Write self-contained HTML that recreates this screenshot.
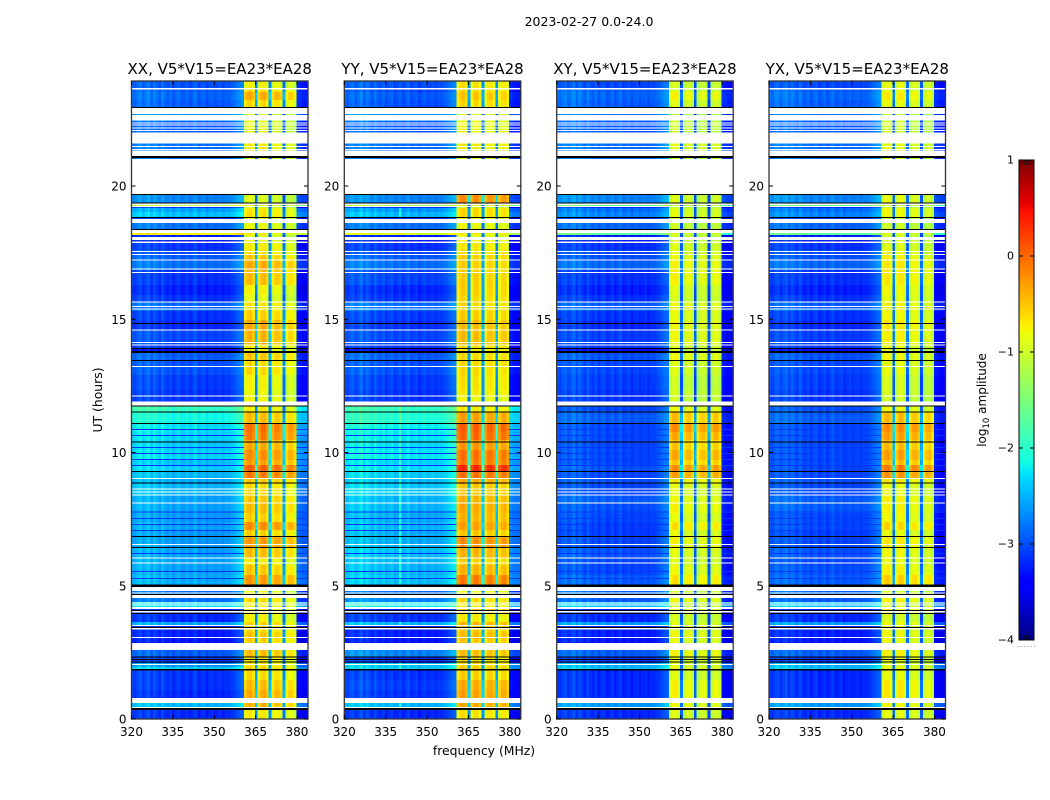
<!DOCTYPE html>
<html>
<head>
<meta charset="utf-8">
<title>2023-02-27 0.0-24.0</title>
<style>
html,body{margin:0;padding:0;background:#fff;}
svg{display:block;font-family:"DejaVu Sans","Liberation Sans",sans-serif;}
</style>
</head>
<body>
<svg id="figure" xmlns="http://www.w3.org/2000/svg" width="1050" height="800" viewBox="0 0 1050 800"></svg>
<script>
const polarizations = ['XX','YY','XY','YX'];
const xTicks = [320,335,350,365,380];
const yTicks = [0,5,10,15,20];
const colorbarTicks = [1,0,-1,-2,-3,-4];

const rowTopUT = [23.94,23.68,23.53,23.23,22.70,22.44,21.61,21.09,19.66,19.36,19.21,19.17,19.02,18.80,18.61,18.35,18.24,18.16,17.97,17.86,17.60,17.41,17.19,16.85,16.29,15.91,15.65,15.31,14.97,14.60,14.03,13.92,13.73,13.43,12.91,12.35,12.08,11.74,11.52,11.11,10.77,10.47,10.09,9.72,9.53,9.27,9.04,8.82,8.41,8.11,7.73,7.39,7.09,6.83,6.42,6.04,5.78,5.40,5.03,4.80,4.54,4.39,4.13,3.94,3.64,3.49,3.26,3.00,2.59,2.33,2.10,1.95,1.84,1.46,1.09,0.60,0.34];

const backgroundXX = [-3.0,-2.95,-2.9,-2.95,-2.7,-2.95,-2.85,-2.85,-2.75,-1.2,-3.15,-2.6,-2.45,-3.15,-2.85,-3.15,-0.8,-3.25,-3.25,-3.15,-3.05,-2.95,-2.85,-3.15,-3.25,-3.15,-2.9,-3.15,-3.2,-3.05,-3.15,-3.4,-2.95,-3.0,-3.1,-3.15,-3.15,-1.95,-2.15,-2.3,-2.35,-2.4,-2.35,-2.45,-2.4,-2.5,-2.55,-2.5,-2.6,-2.6,-2.65,-2.6,-2.65,-2.65,-2.6,-2.6,-2.6,-2.55,-3.15,-2.85,-2.85,-2.3,-3.25,-3.2,-2.6,-3.25,-3.25,-3.3,-2.95,-3.15,-2.65,-2.4,-3.15,-3.15,-3.2,-2.5,-3.2];
const backgroundYY = [-3.0,-3.05,-2.95,-3.0,-2.7,-2.95,-2.85,-2.85,-2.75,-1.3,-3.15,-2.65,-2.5,-3.15,-2.85,-3.15,-1,-3.25,-3.25,-3.15,-3.05,-2.95,-2.85,-3.05,-3.2,-3.15,-2.85,-3.1,-3.15,-3.05,-3.15,-3.4,-2.95,-3.0,-3.1,-3.15,-3.15,-1.95,-2.05,-2.2,-2.25,-2.3,-2.25,-2.35,-2.3,-2.4,-2.45,-2.4,-2.5,-2.5,-2.55,-2.5,-2.55,-2.55,-2.45,-2.5,-2.5,-2.45,-3.15,-2.85,-2.75,-2.2,-3.25,-3.15,-2.5,-3.25,-3.25,-3.3,-2.75,-3.15,-2.45,-2.4,-3.15,-3.1,-3.15,-2.5,-3.2];
const backgroundXY = [-3.05,-2.95,-2.9,-2.95,-2.85,-2.95,-2.85,-2.85,-2.75,-1.6,-3.15,-2.85,-2.75,-3.15,-2.9,-3.15,-1.7,-3.25,-3.25,-3.15,-3.05,-3.0,-2.9,-3.15,-3.25,-3.15,-2.95,-3.15,-3.2,-3.1,-3.15,-3.4,-3.0,-3.05,-3.1,-3.15,-3.15,-3.05,-2.95,-3.05,-3.05,-3.05,-3.05,-3.05,-3.0,-3.05,-3.0,-3.05,-2.95,-3.0,-3.05,-3.1,-3.1,-3.05,-3.0,-3.05,-3.05,-2.95,-3.15,-2.9,-2.95,-2.45,-3.25,-3.2,-2.65,-3.25,-3.25,-3.3,-2.95,-3.15,-2.55,-2.45,-3.2,-3.2,-3.2,-2.65,-3.2];
const backgroundYX = [-3.05,-2.95,-2.9,-2.95,-2.85,-2.95,-2.85,-2.85,-2.75,-1.6,-3.15,-2.85,-2.75,-3.15,-2.9,-3.15,-1.7,-3.25,-3.25,-3.15,-3.05,-3.0,-2.9,-3.15,-3.25,-3.15,-2.95,-3.15,-3.2,-3.1,-3.15,-3.4,-3.0,-3.05,-3.1,-3.15,-3.15,-3.0,-2.95,-3.05,-3.05,-3.05,-3.05,-3.05,-3.05,-3.05,-3.0,-3.05,-2.95,-2.95,-3.05,-3.05,-3.1,-3.05,-3.0,-3.05,-3.0,-2.95,-3.15,-2.9,-2.95,-2.45,-3.25,-3.2,-2.65,-3.25,-3.25,-3.3,-2.95,-3.15,-2.55,-2.45,-3.2,-3.2,-3.2,-2.65,-3.2];

const bandXX = [-.75,-.6,-.35,-.6,-.9,-.85,-.7,-.9,-.9,-.8,-1,-.7,-.65,-.8,-.8,-.9,-.7,-.9,-.8,-.7,-.65,-.5,-.35,-.45,-.75,-.85,-.65,-.55,-.35,-.4,-.7,-.8,-.5,-.6,-.75,-.8,-.75,-.7,-.45,-.05,-.1,-.35,-.2,-.3,.05,-.1,-.5,-.6,-.5,-.45,-.55,-.2,-.55,-.25,-.45,-.7,-.5,-.25,-.8,-.8,-.6,-.7,-.7,-.75,-.55,-.6,-.5,-.55,-.45,-.7,-.65,-.55,-.6,-.45,-.35,-.4,-.7];
const bandYY = [-.65,-.6,-.5,-.6,-.9,-.8,-.7,-.9,-.2,-.8,-1,-.6,-.6,-.8,-.8,-.9,-.7,-.85,-.75,-.7,-.65,-.55,-.55,-.55,-.55,-.6,-.6,-.55,-.45,-.45,-.6,-.7,-.6,-.6,-.65,-.7,-.8,-.7,-.3,.05,0,-.25,-.05,-.1,.35,-.05,-.35,-.5,-.4,-.35,-.4,-.3,-.5,-.2,-.4,-.55,-.4,-.1,-.8,-.8,-.6,-.7,-.5,-.7,-.4,-.5,-.45,-.5,-.45,-.65,-.6,-.5,-.55,-.35,-.3,-.35,-.65];
const bandXY = [-.95,-.9,-.75,-.9,-1.1,-1,-.85,-1,-.9,-1,-1.1,-.9,-.85,-1,-1,-1,-.9,-1,-.95,-.9,-.85,-.8,-.75,-.75,-.9,-.95,-.8,-.85,-.8,-.8,-.9,-1,-.8,-.9,-1,-.95,-1,-.8,-.45,-.2,-.35,-.5,-.35,-.5,-.2,-.3,-.7,-.85,-.8,-.75,-.85,-.65,-.85,-.75,-.85,-.9,-.8,-.65,-.9,-.95,-.8,-.95,-.85,-.95,-.85,-.85,-.8,-.85,-.75,-.9,-.9,-.8,-.9,-.75,-.75,-.8,-.9];
const bandYX = [-.85,-.85,-.7,-.85,-1.1,-1,-.85,-1,-.85,-1,-1.1,-.8,-.8,-1,-1,-1,-.9,-1,-.95,-.9,-.85,-.75,-.7,-.7,-.8,-.85,-.75,-.8,-.7,-.75,-.85,-.95,-.8,-.85,-.95,-.95,-1,-.8,-.45,-.2,-.3,-.45,-.3,-.45,-.1,-.25,-.7,-.85,-.75,-.75,-.8,-.6,-.85,-.7,-.8,-.85,-.75,-.55,-.9,-.95,-.75,-.9,-.8,-.95,-.8,-.85,-.8,-.85,-.75,-.9,-.9,-.8,-.85,-.7,-.7,-.8,-.85];

const channelOffset = [.10,.05,.15,.20,.05,.15,.25,.05,.20,.10,0,.18,.05,0,.10,-.05,.05,.10,-.05,0,.08,-.05,.03,.12,-.05,0,.05,-.08,0,.04,-.05,0,.03,-.06,.02,0,.05,.10,.18,.25,.30,-.15,.02,.06,-.10,-2.0,-.20,.02,.05,-.15,-2.0,-.20,.02,.05,-.10,-2.0,-.20,0,.02,-.20,-.20,-.25,-.30,-.30,-.30];
const segmentTiltXX = [0,0,-.1,-.2];
const segmentTiltYY = [0,0,-.05,-.05];
const segmentTiltXY = [0,-.1,-.15,-.05];
const segmentTiltYX = [0,0,-.1,-.15];
const bandChannelRange = [41,59];
const yyRfiChannel = 20;
const yyRfiBoost = 0.35;

const dipUT = [10.88,10.66,10.21,9.98,9.76,9.53,7.78,7.54,7.32,7.09,6.23,5.55,5.29];
const dipLevel = -3.1;

const flaggedWhite = [[23.68,23.63],[22.93,22.70],[22.66,22.46],[22.39,22.36],[22.30,22.27],[22.20,22.17],[22.10,22.07],[22.01,21.60],[21.50,21.46],[21.39,21.35],[21.33,21.13],[21.01,19.70],[19.36,19.29],[19.25,19.21],[18.76,18.61],[18.35,18.24],[18.09,17.97],[17.92,17.86],[17.56,17.52],[17.45,17.41],[17.24,17.20],[16.90,16.87],[16.77,16.74],[15.67,15.63],[15.50,15.46],[15.40,15.37],[14.62,14.58],[14.15,14.11],[14.05,14.02],[13.25,13.21],[12.14,12.10],[11.91,11.74],[9.05,9.02],[8.65,8.61],[8.54,8.50],[8.42,8.39],[8.12,8.09],[6.57,6.53],[6.06,6.02],[5.87,5.83],[4.95,4.80],[4.75,4.71],[4.65,4.54],[4.37,4.35],[4.30,4.28],[4.20,4.13],[4.05,4.00],[3.53,3.49],[3.41,3.36],[3.08,3.04],[2.85,2.59],[2.06,2.03],[0.79,0.60],[0.45,0.41]];
const flaggedBlack = [[22.96,22.93],[21.13,21.05],[19.70,19.66],[19.38,19.34],[18.84,18.80],[18.39,18.35],[14.86,14.82],[13.92,13.88],[13.81,13.73],[13.47,13.43],[11.76,11.73],[11.54,11.50],[11.11,11.07],[10.41,10.38],[9.31,9.27],[8.87,8.84],[6.87,6.83],[6.45,6.42],[5.05,4.95],[4.69,4.65],[4.09,4.05],[3.98,3.94],[3.45,3.41],[2.35,2.31],[2.25,2.21],[2.16,2.12],[1.88,1.82],[0.41,0.34]];

const backgroundSeries = [backgroundXX,backgroundYY,backgroundXY,backgroundYX];
const bandSeries = [bandXX,bandYY,bandXY,bandYX];
const tiltSeries = [segmentTiltXX,segmentTiltYY,segmentTiltXY,segmentTiltYX];

const NS = 'http://www.w3.org/2000/svg';
const svg = document.getElementById('figure');
const panelLeft = [131.5,344.3,556.7,769];
const panelWidth = [176.5,176.5,176.5,176.5];
const plotTop = 81, plotBottom = 719;
const freqMin = 320, freqMax = 384, utMin = 0;
const FS = 12;

function node(tag, attrs, parent){
  const e = document.createElementNS(NS, tag);
  for (const k in attrs) e.setAttribute(k, attrs[k]);
  (parent || svg).appendChild(e);
  return e;
}
function interp(v, xs, ys){
  for (let i = 1; i < xs.length; i++) if (v <= xs[i]) return ys[i-1] + (ys[i]-ys[i-1])*(v-xs[i-1])/(xs[i]-xs[i-1]);
  return ys[ys.length-1];
}
function jet(level){
  const v = Math.max(0, Math.min(1, (level+4)/5));
  const r = interp(v,[0,.35,.66,.89,1],[0,0,1,1,.5]);
  const g = interp(v,[0,.125,.375,.64,.91,1],[0,0,1,1,0,0]);
  const b = interp(v,[0,.11,.34,.65,1],[.5,1,1,0,0]);
  return 'rgb('+Math.round(r*255)+','+Math.round(g*255)+','+Math.round(b*255)+')';
}
function xScale(p, f){ return panelLeft[p] + (f-freqMin)/(freqMax-freqMin)*panelWidth[p]; }
function yScale(ut){ return plotBottom - ut*26.65; }

polarizations.forEach(function(pol, p){
  const bg = backgroundSeries[p], band = bandSeries[p], tilt = tiltSeries[p];
  const group = node('g', {'shape-rendering':'crispEdges'});
  
  

  rowTopUT.forEach(function(top, r){
    const bottom = r+1 < rowTopUT.length ? rowTopUT[r+1] : utMin;
    const y0 = yScale(top), y1 = yScale(bottom);
    channelOffset.forEach(function(off, c){
      const f0 = Math.max(freqMin, freqMin + c - 0.25);
      const f1 = Math.min(freqMax, freqMin + c + 0.75);
      if (f1 <= f0) return;
      const inBand = c >= bandChannelRange[0] && c <= bandChannelRange[1];
      let level;
      if (inBand) level = band[r] + off + tilt[Math.min(3, Math.floor((c-bandChannelRange[0])/5))];
      else level = bg[r] + off;
      if (p === 1 && c === yyRfiChannel && bg[r] > -2.7) level += yyRfiBoost;
      const x0 = xScale(p, f0), x1 = xScale(p, f1);
      const cell = node('rect', {x:x0.toFixed(2), y:y0.toFixed(2), width:(x1-x0+0.3).toFixed(2), height:(y1-y0+0.3).toFixed(2), fill:jet(level)}, group);
      
      
    });
  });

  dipUT.forEach(function(ut){
    [[freqMin, freqMin + bandChannelRange[0] - 0.25],[freqMin + bandChannelRange[1] + 0.75, freqMax]].forEach(function(range){
      const dip = node('rect', {x:xScale(p,range[0]), y:yScale(ut), width:xScale(p,range[1])-xScale(p,range[0]), height:1, fill:jet(dipLevel)}, group);
      
      
    });
  });

  flaggedWhite.forEach(function(s){
    const gap = node('rect', {x:panelLeft[p], y:yScale(s[0]), width:panelWidth[p], height:Math.max(1,yScale(s[1])-yScale(s[0])), fill:'#fff'}, group);
    
    
  });
  flaggedBlack.forEach(function(s){
    const line = node('rect', {x:panelLeft[p], y:yScale(s[0]), width:panelWidth[p], height:Math.max(1,yScale(s[1])-yScale(s[0])), fill:'#000'}, group);
    
    
  });

  const frame = node('rect', {x:panelLeft[p], y:plotTop, width:panelWidth[p], height:plotBottom-plotTop, fill:'none', stroke:'#333', 'stroke-width':1.3});
  
  

  const title = node('text', {x:panelLeft[p]+panelWidth[p]/2, y:74, 'text-anchor':'middle', 'font-size':15, fill:'#000'});
  title.textContent = pol + ', V5*V15=EA23*EA28';
  
  

  xTicks.forEach(function(t){
    const x = xScale(p, t);
    const tb = node('line', {x1:x, x2:x, y1:plotBottom, y2:plotBottom-4, stroke:'#000', 'stroke-width':1});
    
    
    const tt = node('line', {x1:x, x2:x, y1:plotTop, y2:plotTop+4, stroke:'#000', 'stroke-width':1});
    
    
    const label = node('text', {x:x, y:736, 'text-anchor':'middle', 'font-size':FS, fill:'#000'});
    label.textContent = String(t);
    
    
  });

  yTicks.forEach(function(t){
    const y = yScale(t);
    const tl = node('line', {x1:panelLeft[p], x2:panelLeft[p]+4, y1:y, y2:y, stroke:'#000', 'stroke-width':1});
    
    
    const tr = node('line', {x1:panelLeft[p]+panelWidth[p], x2:panelLeft[p]+panelWidth[p]-4, y1:y, y2:y, stroke:'#000', 'stroke-width':1});
    
    
    const label = node('text', {x:panelLeft[p]-5, y:y+4.5, 'text-anchor':'end', 'font-size':FS, fill:'#000'});
    label.textContent = String(t);
    
    
  });
});

const supTitle = node('text', {x:589, y:26, 'text-anchor':'middle', 'font-size':12.5, fill:'#000'});
supTitle.textContent = '2023-02-27 0.0-24.0';



const xTitle = node('text', {x:484, y:755, 'text-anchor':'middle', 'font-size':12.4, fill:'#000'});
xTitle.textContent = 'frequency (MHz)';



const yTitle = node('text', {x:0, y:0, transform:'translate(102,400) rotate(-90)', 'text-anchor':'middle', 'font-size':12.4, fill:'#000'});
yTitle.textContent = 'UT (hours)';



const cbX = 1019, cbW = 15, cbTop = 160, cbBottom = 640;
const cbLevelTop = 1, cbLevelBottom = -4;
function cbScale(v){ return cbBottom - (v-cbLevelBottom)/(cbLevelTop-cbLevelBottom)*(cbBottom-cbTop); }
const cbGroup = node('g', {'shape-rendering':'crispEdges'});


for (let i = 0; i < 240; i++){
  const level = cbLevelBottom + (i+0.5)/240*(cbLevelTop-cbLevelBottom);
  const y1 = cbBottom - i*2;
  const seg = node('rect', {x:cbX, y:y1-2, width:cbW, height:2.3, fill:jet(level)}, cbGroup);
  
  
}
const cbFrame = node('rect', {x:cbX, y:cbTop, width:cbW, height:cbBottom-cbTop, fill:'none', stroke:'#000', 'stroke-width':1});


colorbarTicks.forEach(function(t){
  const y = cbScale(t);
  const l = node('line', {x1:cbX, x2:cbX+4, y1:y, y2:y, stroke:'#000', 'stroke-width':1});
  
  
  const r = node('line', {x1:cbX+cbW, x2:cbX+cbW-4, y1:y, y2:y, stroke:'#000', 'stroke-width':1});
  
  
  const label = node('text', {x:cbX-5, y:y+3.5, 'text-anchor':'end', 'font-size':11, fill:'#000'});
  label.textContent = t < 0 ? '\u2212' + Math.abs(t) : String(t);
  
  
});
for (let i = 0; i < 5; i++){
  const x = cbX + 2.5 + i*2.5;
  const a = node('line', {x1:x, x2:x, y1:cbTop, y2:cbTop+5, stroke:'#000', 'stroke-width':.8});
  
  
  const b = node('line', {x1:x, x2:x, y1:cbBottom, y2:cbBottom-5, stroke:'#000', 'stroke-width':.8});
  
  
}
for (let i = 0; i < 6; i++){
  const dot = node('rect', {x:1017.5 + i*3.3, y:646, width:1, height:1, fill:'#999'});
  
  
}
const cbTitle = node('text', {x:0, y:0, transform:'translate(986,400) rotate(-90)', 'text-anchor':'middle', 'font-size':12, fill:'#000'});


const t1 = node('tspan', {}, cbTitle); t1.textContent = 'log';
const t2 = node('tspan', {dy:3, 'font-size':8.5}, cbTitle); t2.textContent = '10';
const t3 = node('tspan', {dy:-3}, cbTitle); t3.textContent = ' amplitude';
</script>
</body>
</html>
